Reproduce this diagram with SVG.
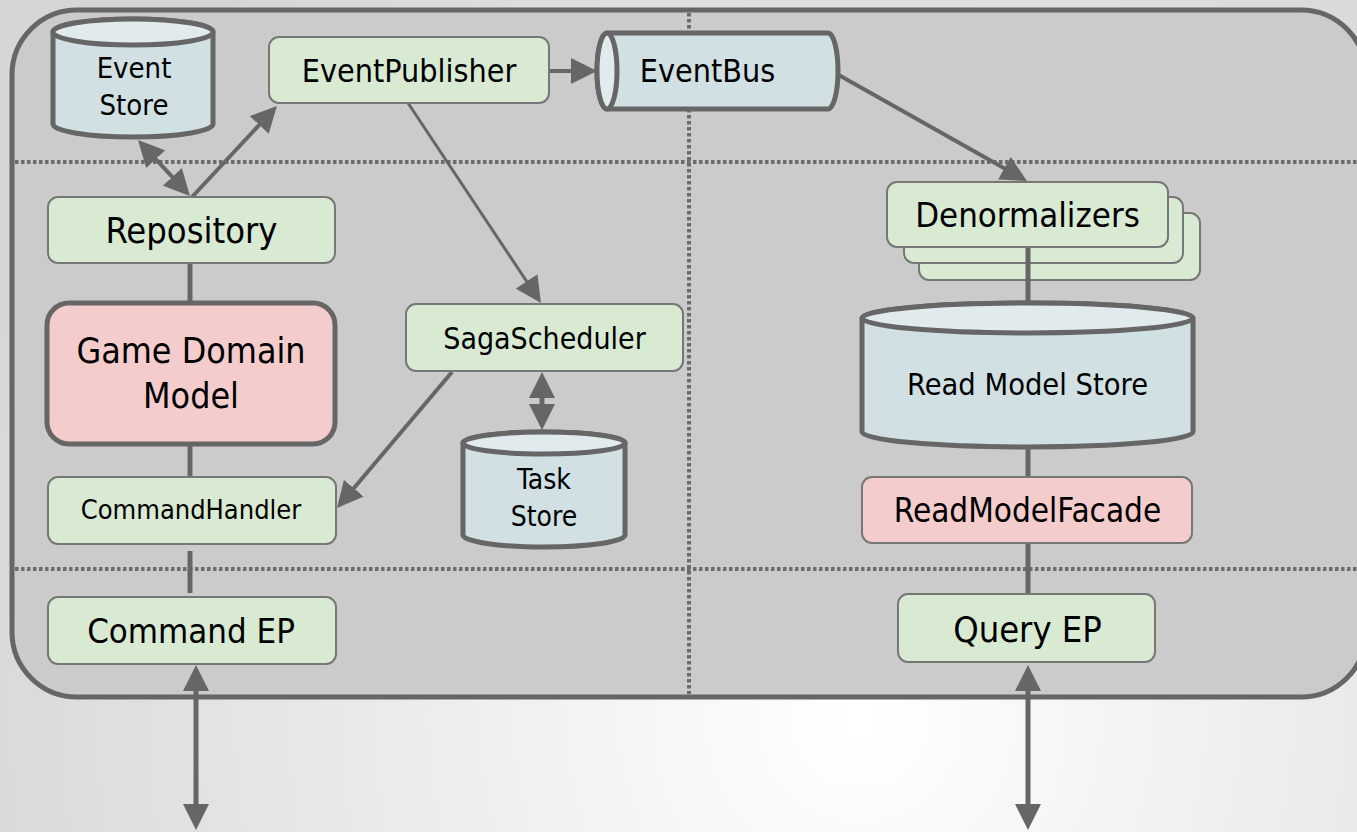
<svg xmlns="http://www.w3.org/2000/svg" width="1357" height="832" viewBox="0 0 1357 832">
<defs>
<radialGradient id="bg" gradientUnits="userSpaceOnUse" cx="860" cy="720" r="950">
<stop offset="0" stop-color="#ffffff"/>
<stop offset="1" stop-color="#d6d6d6"/>
</radialGradient>
<marker id="ah" markerUnits="userSpaceOnUse" markerWidth="26" markerHeight="26" refX="5" refY="13" orient="auto-start-reverse" viewBox="0 0 26 26">
<path d="M0,0 L26,13 L0,26 Z" fill="#666"/>
</marker>
<style>
.t{font-family:"DejaVu Sans Condensed","DejaVu Sans",sans-serif;font-stretch:condensed;fill:#000;text-anchor:middle}
.box{fill:#d9ead3;stroke:#777;stroke-width:2}
.pink{fill:#f4cccc;stroke:#777;stroke-width:2}
.cyl{fill:#d0e0e3;stroke:#666;stroke-width:5}
.cylTop{fill:#e1ebee;stroke:#666;stroke-width:5}
.dot{stroke:#6c6c6c;stroke-width:4;stroke-dasharray:3.5 2.5;fill:none}
.c{stroke:#666;fill:none}
</style>
</defs>
<rect x="0" y="0" width="1357" height="832" fill="url(#bg)"/>
<rect x="12" y="10" width="1354" height="687" rx="65" ry="65" fill="#cbcbcb" stroke="#666" stroke-width="5"/>
<g id="lanes">
<line class="dot" x1="15" y1="162" x2="1357" y2="162"/>
<line class="dot" x1="15" y1="569" x2="1357" y2="569"/>
<line class="dot" x1="689" y1="13" x2="689" y2="694"/>
</g>
<g id="connectors">
<line class="c" stroke-width="5" x1="190" y1="263" x2="190" y2="303"/>
<line class="c" stroke-width="5" x1="190" y1="444" x2="190" y2="477"/>
<line class="c" stroke-width="5" x1="190" y1="551" x2="190" y2="593"/>
<line class="c" stroke-width="5" x1="1028" y1="247" x2="1028" y2="312"/>
<line class="c" stroke-width="5" x1="1028" y1="447" x2="1028" y2="477"/>
<line class="c" stroke-width="5" x1="1028" y1="543" x2="1028" y2="594"/>
<line class="c" stroke-width="4" x1="152.3" y1="155.4" x2="175.7" y2="180.6" marker-start="url(#ah)" marker-end="url(#ah)"/>
<line class="c" stroke-width="4" x1="192" y1="197" x2="262.6" y2="121.3" marker-end="url(#ah)"/>
<line class="c" stroke-width="4" x1="549" y1="71" x2="576" y2="71" marker-end="url(#ah)"/>
<line class="c" stroke-width="4" x1="837" y1="74" x2="1008.7" y2="170.7" marker-end="url(#ah)"/>
<line class="c" stroke-width="3" x1="408" y1="103" x2="529.4" y2="285.5" marker-end="url(#ah)"/>
<line class="c" stroke-width="4" x1="452" y1="372" x2="350.6" y2="492" marker-end="url(#ah)"/>
<line class="c" stroke-width="5" x1="542" y1="393" x2="542" y2="409" marker-start="url(#ah)" marker-end="url(#ah)"/>
<line class="c" stroke-width="5" x1="196" y1="686" x2="196" y2="809" marker-start="url(#ah)" marker-end="url(#ah)"/>
<line class="c" stroke-width="5" x1="1028" y1="686" x2="1028" y2="809" marker-start="url(#ah)" marker-end="url(#ah)"/>
</g>
<g id="event-store">
<path class="cyl" d="M53,32 A80,13 0 0 1 213,32 L213,124 A80,13 0 0 1 53,124 Z"/>
<ellipse class="cylTop" cx="133" cy="32" rx="80" ry="13"/>
<text class="t" x="134" y="78" font-size="29">Event</text>
<text class="t" x="134" y="115" font-size="29">Store</text>
</g>
<g id="event-publisher">
<rect class="box" x="269" y="37" width="280" height="66" rx="10"/>
<text class="t" x="409" y="82" font-size="32">EventPublisher</text>
</g>
<g id="event-bus">
<path class="cyl" d="M607,33 L828,33 A10,38 0 0 1 828,109 L607,109 A10,38 0 0 1 607,33 Z"/>
<ellipse class="cylTop" cx="607" cy="71" rx="10" ry="38"/>
<text class="t" x="707.5" y="82" font-size="32">EventBus</text>
</g>
<g id="repository">
<rect class="box" x="48" y="197" width="287" height="66" rx="10"/>
<text class="t" x="191.5" y="243" font-size="36">Repository</text>
</g>
<g id="game-domain-model">
<rect x="47" y="303" width="288" height="141" rx="22" fill="#f4cccc" stroke="#666" stroke-width="5"/>
<text class="t" x="191" y="363" font-size="35.5">Game Domain</text>
<text class="t" x="191" y="408" font-size="35.5">Model</text>
</g>
<g id="command-handler">
<rect class="box" x="48" y="477" width="288" height="67" rx="10"/>
<text class="t" x="191" y="519" font-size="27">CommandHandler</text>
</g>
<g id="command-ep">
<rect class="box" x="48" y="597" width="288" height="67" rx="10"/>
<text class="t" x="191" y="643" font-size="34.5">Command EP</text>
</g>
<g id="saga-scheduler">
<rect class="box" x="406" y="304" width="277" height="67" rx="10"/>
<text class="t" x="544.5" y="349" font-size="30">SagaScheduler</text>
</g>
<g id="task-store">
<path class="cyl" d="M463,443 A81,11 0 0 1 625,443 L625,535 A81,12 0 0 1 463,535 Z"/>
<ellipse class="cylTop" cx="544" cy="443" rx="81" ry="11"/>
<text class="t" x="544" y="489" font-size="28">Task</text>
<text class="t" x="544" y="526" font-size="28">Store</text>
</g>
<g id="denormalizers">
<rect class="box" x="919" y="213" width="281" height="67" rx="10"/>
<rect class="box" x="904" y="197" width="279" height="66" rx="10"/>
<line class="c" stroke-width="5" x1="1028" y1="247" x2="1028" y2="282"/>
<rect class="box" x="887" y="182" width="281" height="65" rx="10"/>
<text class="t" x="1027.5" y="227" font-size="34.5">Denormalizers</text>
</g>
<g id="read-model-store">
<path class="cyl" d="M862,318 A165.5,15 0 0 1 1193,318 L1193,432 A165.5,15 0 0 1 862,432 Z"/>
<ellipse class="cylTop" cx="1027.5" cy="318" rx="165.5" ry="15"/>
<text class="t" x="1027.5" y="395" font-size="30.5">Read Model Store</text>
</g>
<g id="read-model-facade">
<rect class="pink" x="862" y="477" width="330" height="66" rx="10"/>
<text class="t" x="1027.5" y="522" font-size="33">ReadModelFacade</text>
</g>
<g id="query-ep">
<rect class="box" x="898" y="594" width="257" height="68" rx="10"/>
<text class="t" x="1027.5" y="642" font-size="36">Query EP</text>
</g>
</svg>
